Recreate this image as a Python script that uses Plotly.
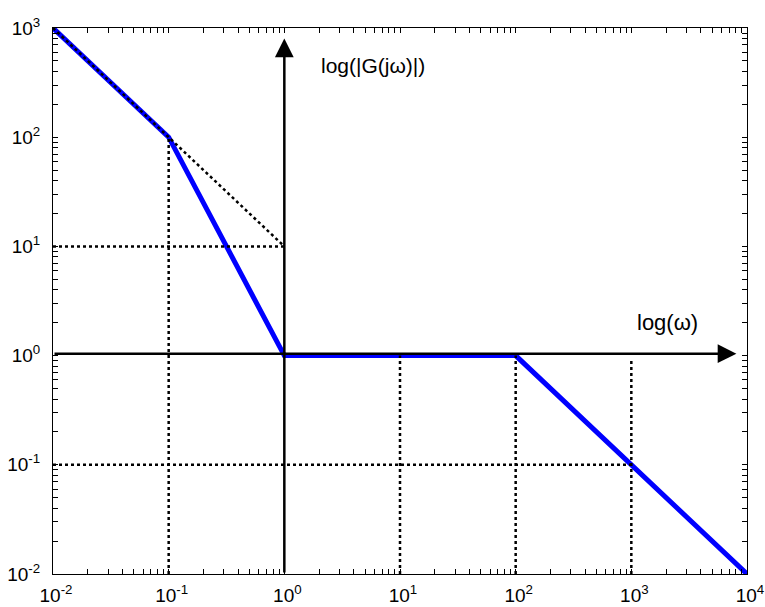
import math
import plotly.graph_objects as go

# Bode asymptote (magnitude)
bode_w = [0.01, 0.1, 1, 100, 10000]
bode_g = [1000, 100, 1, 1, 0.01]

# Dotted helper lines (each: x list, y list)
guide_lines = [
    ([0.01, 1], [1000, 10]),      # slope continuation
    ([0.01, 1], [10, 10]),        # horizontal at 10
    ([0.01, 1000], [0.1, 0.1]),   # horizontal at 0.1
    ([0.1, 0.1], [0.01, 100]),    # vertical at 0.1
    ([10, 10], [0.01, 1]),        # vertical at 10
    ([100, 100], [0.01, 1]),      # vertical at 100
    ([1000, 1000], [0.01, 0.92]), # vertical at 1000
]

# Axis arrows: (x_start, x_end), (y_start, y_end)
axis_w_arrow = ([0.01, 8100], [1.04, 1.04])
axis_g_arrow = ([1, 1], [0.01, 800])

# Axis label texts, anchor points (data coords) and font sizes
label_g = ("log(|G(jω)|)", 1.99, 458, 21)
label_w = ("log(ω)", 1072, 2.03, 22)

x_major = [0.01, 0.1, 1, 10, 100, 1000, 10000]
x_major_text = ["10<sup>-2</sup>", "10<sup>-1</sup>", "10<sup>0</sup>", "10<sup>1</sup>",
                "10<sup>2</sup>", "10<sup>3</sup>", "10<sup>4</sup>"]
y_major = [0.01, 0.1, 1, 10, 100, 1000]
y_major_text = ["10<sup>-2</sup>", "10<sup>-1</sup>", "10<sup>0</sup>", "10<sup>1</sup>",
                "10<sup>2</sup>", "10<sup>3</sup>"]


def minor_of(major):
    return [v * k for v in major[:-1] for k in range(2, 10)]


font_family = "Liberation Sans, Arial, Helvetica, sans-serif"

fig = go.Figure()

fig.add_trace(go.Scatter(x=bode_w, y=bode_g, mode="lines",
                         line=dict(color="#0000ff", width=5),
                         showlegend=False))

for xs, ys in guide_lines:
    fig.add_trace(go.Scatter(x=xs, y=ys, mode="lines",
                             line=dict(color="black", width=2.5, dash="3px,3px"),
                             showlegend=False, hoverinfo="skip"))

# axis arrows as annotations (line + head)
for xs, ys in [axis_w_arrow, axis_g_arrow]:
    fig.add_annotation(x=math.log10(xs[1]), y=math.log10(ys[1]),
                       ax=math.log10(xs[0]), ay=math.log10(ys[0]),
                       xref="x", yref="y", axref="x", ayref="y",
                       showarrow=True, arrowhead=2, arrowsize=1.5, arrowwidth=2.5,
                       arrowcolor="black", text="", standoff=0, startstandoff=0)

for txt, lx, ly, fs in [label_g, label_w]:
    fig.add_annotation(x=math.log10(lx), y=math.log10(ly), xref="x", yref="y",
                       text=txt, showarrow=False, xanchor="left", yanchor="middle",
                       font=dict(family=font_family, size=fs, color="black"))

axis_common = dict(
    type="log", showgrid=False, zeroline=False, automargin=False,
    showline=True, linecolor="black", linewidth=1, mirror="allticks",
    ticks="inside", ticklen=5, tickcolor="black", tickwidth=1,
    tickmode="array",
    tickfont=dict(family=font_family, size=19, color="black"),
)

fig.update_xaxes(range=[-2, 4], tickvals=x_major, ticktext=x_major_text,
                 minor=dict(tickmode="array", tickvals=minor_of(x_major), ticks="inside",
                            ticklen=5, tickcolor="black", tickwidth=1, showgrid=False),
                 ticklabelstandoff=4, ticklabelshift=3, **axis_common)
fig.update_yaxes(range=[-2, 3], tickvals=y_major, ticktext=y_major_text,
                 minor=dict(tickmode="array", tickvals=minor_of(y_major), ticks="inside",
                            ticklen=5, tickcolor="black", tickwidth=1, showgrid=False),
                 ticklabelstandoff=8, **axis_common)

fig.update_layout(
    width=765, height=607,
    margin=dict(l=53, r=18, t=28, b=33),
    plot_bgcolor="white", paper_bgcolor="white",
    showlegend=False,
)

fig.write_html("out.html", config={"displayModeBar": False},
               post_script="document.body.style.margin='0';document.body.style.overflow='hidden';")
